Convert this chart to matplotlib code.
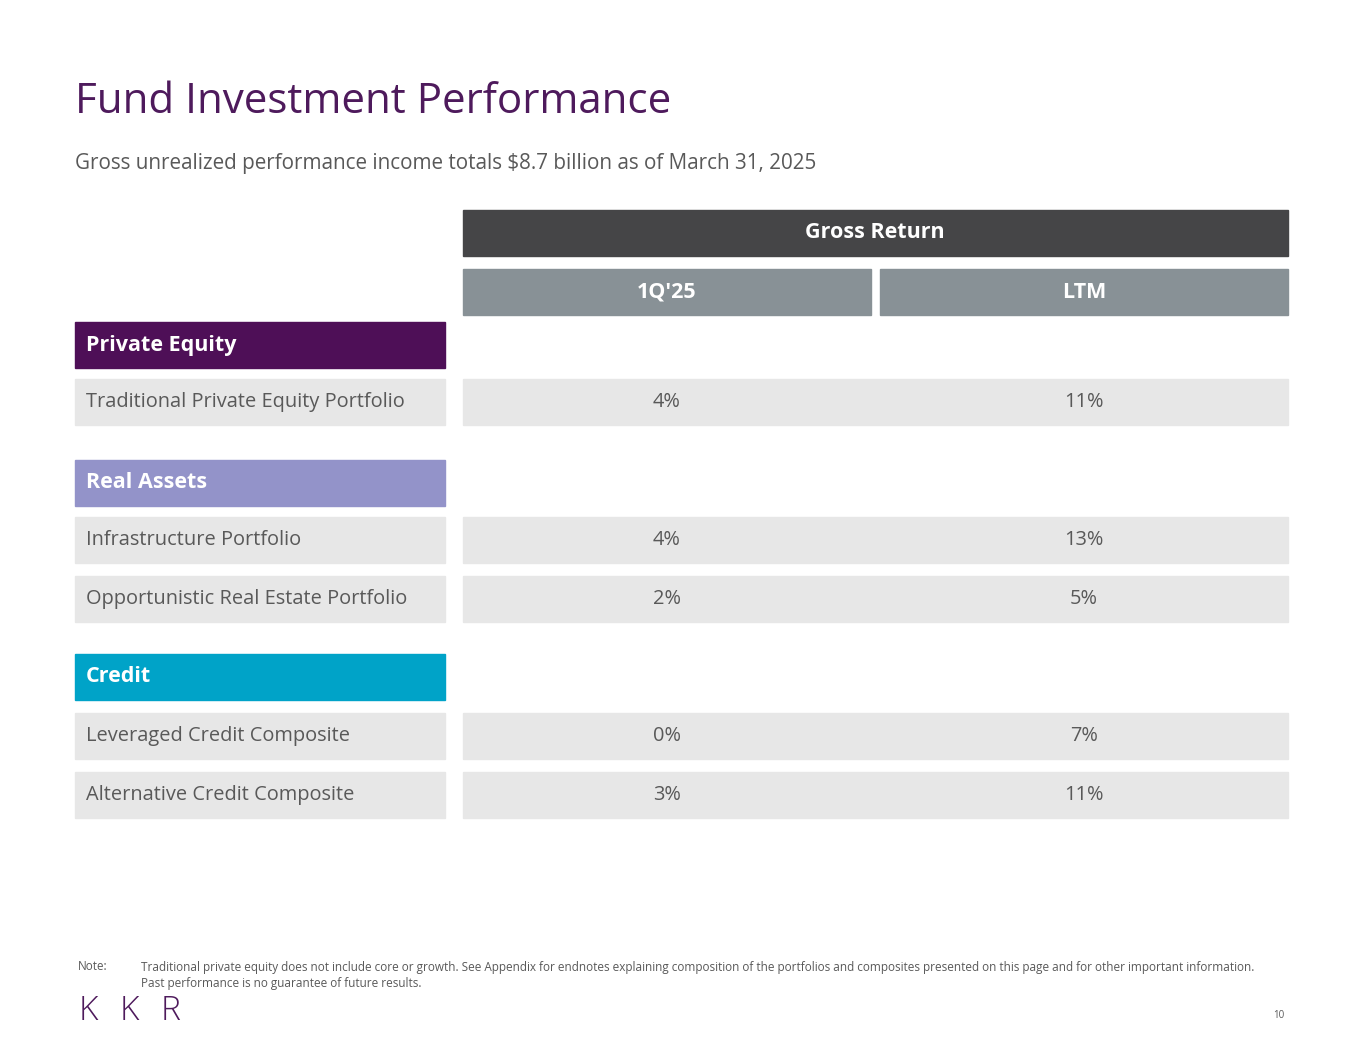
import matplotlib.pyplot as plt
from matplotlib.patches import Rectangle

plt.rcParams['font.family'] = ['Open Sans', 'DejaVu Sans']

grey_text = '#595959'
sections = [
    # (label, colour, top y, rows)
    ('Private Equity', '#4E0F57', 322, [('Traditional Private Equity Portfolio', '4%', '11%', 379)]),
    ('Real Assets', '#9393C9', 460, [('Infrastructure Portfolio', '4%', '13%', 517),
                                     ('Opportunistic Real Estate Portfolio', '2%', '5%', 576)]),
    ('Credit', '#00A3C8', 654, [('Leveraged Credit Composite', '0%', '7%', 713),
                                ('Alternative Credit Composite', '3%', '11%', 772)]),
]
row_h = 46

fig = plt.figure(figsize=(13.65, 10.55), dpi=100)
ax = fig.add_axes([0, 0, 1, 1])
ax.set_xlim(0, 1365)
ax.set_ylim(1055, 0)
ax.axis('off')

ax.text(75, 102, 'Fund Investment Performance', fontsize=30.3, color='#4E1A5C', va='center')
ax.text(75, 163, 'Gross unrealized performance income totals $8.7 billion as of March 31, 2025',
        fontsize=14.9, color=grey_text, va='center')

# headers
ax.add_patch(Rectangle((463, 210), 825, row_h, color='#454547'))
ax.text(875, 233, 'Gross Return', fontsize=15.5, color='white', weight='bold', ha='center', va='center')
for x0, lab in [(463, "1Q'25"), (880, 'LTM')]:
    ax.add_patch(Rectangle((x0, 269), 408, row_h, color='#889196'))
    ax.text(x0 + 204, 292, lab, fontsize=15.5, color='white', weight='bold', ha='center', va='center')

for label, col, y, rows in sections:
    ax.add_patch(Rectangle((75, y), 370, row_h, color=col))
    ax.text(86, y + row_h / 2, label, fontsize=15.5, color='white', weight='bold', va='center')
    for name, q, ltm, ry in rows:
        ax.add_patch(Rectangle((75, ry), 370, row_h, color='#E7E7E7'))
        ax.add_patch(Rectangle((463, ry), 825, row_h, color='#E7E7E7'))
        ax.text(86, ry + row_h / 2, name, fontsize=14.4, color=grey_text, va='center')
        ax.text(667, ry + row_h / 2, q, fontsize=14.4, color=grey_text, ha='center', va='center')
        ax.text(1084, ry + row_h / 2, ltm, fontsize=14.4, color=grey_text, ha='center', va='center')

ax.text(78, 967, 'Note:', fontsize=8.4, color=grey_text, va='center')
ax.text(141, 967, 'Traditional private equity does not include core or growth. See Appendix for endnotes explaining '
        'composition of the portfolios and composites presented on this page and for other important information.',
        fontsize=8.5, color=grey_text, va='center')
ax.text(141, 983, 'Past performance is no guarantee of future results.', fontsize=8.5, color=grey_text, va='center')
for i, ch in enumerate('KKR'):
    ax.text(79 + i * 41, 1011, ch, fontsize=24, color='#4E1A5C', va='center', weight='light')
ax.text(1284, 1016, '10', fontsize=7, color=grey_text, ha='right', va='center')

fig.savefig('out.png', dpi=100)
